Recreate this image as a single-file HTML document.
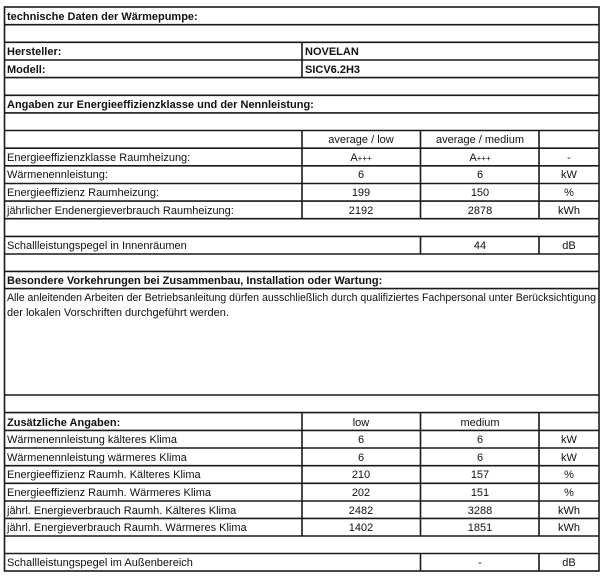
<!DOCTYPE html>
<html><head><meta charset="utf-8"><style>
html,body{margin:0;padding:0;background:#fff;width:607px;height:580px;overflow:hidden}
svg text{font-family:"Liberation Sans",Arial,sans-serif;font-size:11px;fill:#111}
.b{font-weight:bold}
.c{text-anchor:middle}
</style></head><body>
<svg width="607" height="580" xmlns="http://www.w3.org/2000/svg">
<g stroke="#1a1a1a" stroke-width="1.6" fill="none">
<!-- outer -->
<rect x="4.5" y="7" width="594.5" height="564"/>
<!-- horizontal lines -->
<line x1="4.5" x2="599" y1="24.7" y2="24.7"/>
<line x1="4.5" x2="599" y1="42.3" y2="42.3"/>
<line x1="4.5" x2="599" y1="60" y2="60"/>
<line x1="4.5" x2="599" y1="77.6" y2="77.6"/>
<line x1="4.5" x2="599" y1="95.3" y2="95.3"/>
<line x1="4.5" x2="599" y1="112.9" y2="112.9"/>
<line x1="4.5" x2="599" y1="130.5" y2="130.5"/>
<line x1="4.5" x2="599" y1="148.2" y2="148.2"/>
<line x1="4.5" x2="599" y1="165.8" y2="165.8"/>
<line x1="4.5" x2="599" y1="183.5" y2="183.5"/>
<line x1="4.5" x2="599" y1="201.1" y2="201.1"/>
<line x1="4.5" x2="599" y1="218.7" y2="218.7"/>
<line x1="4.5" x2="599" y1="236.4" y2="236.4"/>
<line x1="4.5" x2="599" y1="254" y2="254"/>
<line x1="4.5" x2="599" y1="271.4" y2="271.4"/>
<line x1="4.5" x2="599" y1="288.6" y2="288.6"/>
<line x1="4.5" x2="599" y1="395" y2="395"/>
<line x1="4.5" x2="599" y1="412.6" y2="412.6"/>
<line x1="4.5" x2="599" y1="430.4" y2="430.4"/>
<line x1="4.5" x2="599" y1="448" y2="448"/>
<line x1="4.5" x2="599" y1="465.7" y2="465.7"/>
<line x1="4.5" x2="599" y1="483.3" y2="483.3"/>
<line x1="4.5" x2="599" y1="501" y2="501"/>
<line x1="4.5" x2="599" y1="518.4" y2="518.4"/>
<line x1="4.5" x2="599" y1="536" y2="536"/>
<line x1="4.5" x2="599" y1="553.5" y2="553.5"/>
<!-- vertical: Hersteller/Modell -->
<line x1="302" x2="302" y1="42.3" y2="77.6"/>
<!-- table 1 -->
<line x1="302" x2="302" y1="130.5" y2="218.7"/>
<line x1="420.5" x2="420.5" y1="130.5" y2="218.7"/>
<line x1="539" x2="539" y1="130.5" y2="218.7"/>
<line x1="420.5" x2="420.5" y1="236.4" y2="254"/>
<line x1="539" x2="539" y1="236.4" y2="254"/>
<!-- table 2 -->
<line x1="302" x2="302" y1="412.6" y2="536"/>
<line x1="420.5" x2="420.5" y1="412.6" y2="536"/>
<line x1="539" x2="539" y1="412.6" y2="536"/>
<line x1="420.5" x2="420.5" y1="553.5" y2="571"/>
<line x1="539" x2="539" y1="553.5" y2="571"/>
</g>
<text class="b" x="7" y="20">technische Daten der Wärmepumpe:</text>
<text class="b" x="7" y="55">Hersteller:</text>
<text class="b" x="305" y="55">NOVELAN</text>
<text class="b" x="7" y="73">Modell:</text>
<text class="b" x="305" y="73">SICV6.2H3</text>
<text class="b" x="7" y="108">Angaben zur Energieeffizienzklasse und der Nennleistung:</text>
<text class="c" x="361" y="143">average / low</text>
<text class="c" x="480" y="143">average / medium</text>
<text x="7" y="161">Energieeffizienzklasse Raumheizung:</text>
<text class="c" x="361" y="161">A<tspan font-size="8">+++</tspan></text>
<text class="c" x="480" y="161">A<tspan font-size="8">+++</tspan></text>
<text class="c" x="569" y="161">-</text>
<text x="7" y="178">Wärmenennleistung:</text>
<text class="c" x="361" y="178">6</text>
<text class="c" x="480" y="178">6</text>
<text class="c" x="569" y="178">kW</text>
<text x="7" y="196">Energieeffizienz Raumheizung:</text>
<text class="c" x="361" y="196">199</text>
<text class="c" x="480" y="196">150</text>
<text class="c" x="569" y="196">%</text>
<text x="7" y="214">jährlicher Endenergieverbrauch Raumheizung:</text>
<text class="c" x="361" y="214">2192</text>
<text class="c" x="480" y="214">2878</text>
<text class="c" x="569" y="214">kWh</text>
<text x="7" y="249">Schallleistungspegel in Innenräumen</text>
<text class="c" x="480" y="249">44</text>
<text class="c" x="569" y="249">dB</text>
<text class="b" x="7" y="284">Besondere Vorkehrungen bei Zusammenbau, Installation oder Wartung:</text>
<text x="7" y="301" textLength="589" lengthAdjust="spacingAndGlyphs">Alle anleitenden Arbeiten der Betriebsanleitung dürfen ausschließlich durch qualifiziertes Fachpersonal unter Berücksichtigung</text>
<text x="7" y="316">der lokalen Vorschriften durchgeführt werden.</text>
<text class="b" x="7" y="426">Zusätzliche Angaben:</text>
<text class="c" x="361" y="426">low</text>
<text class="c" x="480" y="426">medium</text>
<text x="7" y="443">Wärmenennleistung kälteres Klima</text>
<text class="c" x="361" y="443">6</text>
<text class="c" x="480" y="443">6</text>
<text class="c" x="569" y="443">kW</text>
<text x="7" y="461">Wärmenennleistung wärmeres Klima</text>
<text class="c" x="361" y="461">6</text>
<text class="c" x="480" y="461">6</text>
<text class="c" x="569" y="461">kW</text>
<text x="7" y="478">Energieeffizienz Raumh. Kälteres Klima</text>
<text class="c" x="361" y="478">210</text>
<text class="c" x="480" y="478">157</text>
<text class="c" x="569" y="478">%</text>
<text x="7" y="496">Energieeffizienz Raumh. Wärmeres Klima</text>
<text class="c" x="361" y="496">202</text>
<text class="c" x="480" y="496">151</text>
<text class="c" x="569" y="496">%</text>
<text x="7" y="514">jährl. Energieverbrauch Raumh. Kälteres Klima</text>
<text class="c" x="361" y="514">2482</text>
<text class="c" x="480" y="514">3288</text>
<text class="c" x="569" y="514">kWh</text>
<text x="7" y="531">jährl. Energieverbrauch Raumh. Wärmeres Klima</text>
<text class="c" x="361" y="531">1402</text>
<text class="c" x="480" y="531">1851</text>
<text class="c" x="569" y="531">kWh</text>
<text x="7" y="566">Schallleistungspegel im Außenbereich</text>
<text class="c" x="480" y="566">-</text>
<text class="c" x="569" y="566">dB</text>
</svg>
</body></html>
